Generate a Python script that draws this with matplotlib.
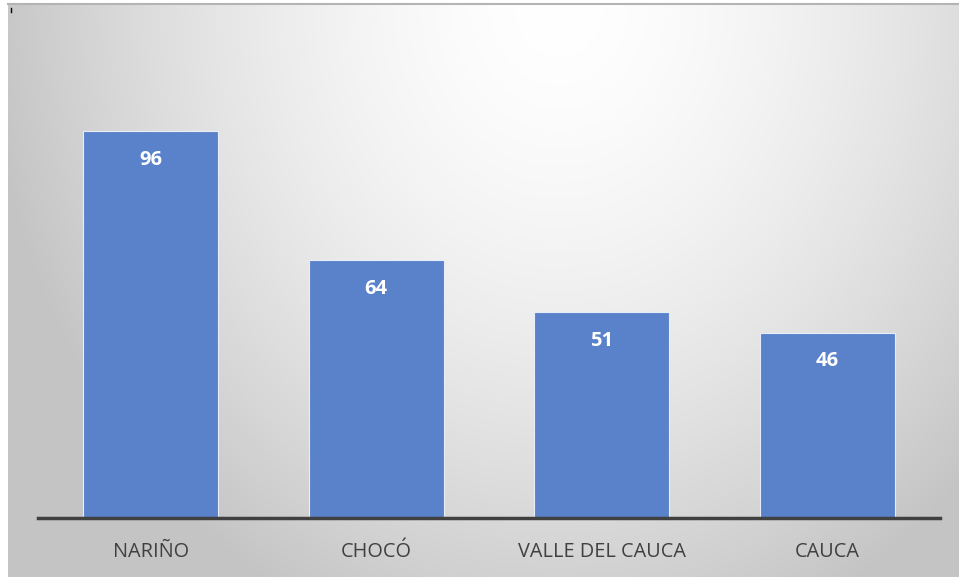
import matplotlib.pyplot as plt
import numpy as np

departamentos = ['NARIÑO', 'CHOCÓ', 'VALLE DEL CAUCA', 'CAUCA']
valores = [96, 64, 51, 46]

W, H = 959, 577
fig = plt.figure(figsize=(W / 100, H / 100), dpi=100, facecolor='white')

# fondo con degradado radial
bg = fig.add_axes([8 / W, 0, (W - 8) / W, (H - 4) / H])
yy, xx = np.mgrid[0:573, 0:951]
d = np.sqrt((xx - 550) ** 2 + (0.85 * yy) ** 2)
v = np.clip(1 - 0.216 * (d / 550) ** 1.6, 0.77, 1)
bg.imshow(np.dstack([v, v, v]), aspect='auto', extent=(0, 1, 0, 1), origin='upper')
bg.set_axis_off()
fig.add_artist(plt.Line2D([8 / W, 1], [1 - 4 / H] * 2, color='#b4b4b4', lw=1.5))
fig.add_artist(plt.Line2D([11 / W, 11 / W], [1 - 8 / H, 1 - 12 / H], color='black', lw=1))

ax = fig.add_axes([38 / W, (H - 518) / H, 902 / W, 484 / H])
ax.patch.set_alpha(0)
x = np.arange(len(departamentos))
barras = ax.bar(x, valores, width=0.6, color='#5a82ca', edgecolor='#e8eef8', linewidth=0.8)
ax.set_xlim(-0.5, 3.5)
ax.set_ylim(0, 484 / 4.03)

for b, val in zip(barras, valores):
    ax.annotate(str(val), (b.get_x() + b.get_width() / 2, val), xytext=(0, -20.5),
                textcoords='offset points', ha='center', va='center',
                color='white', fontsize=14.5, fontweight='bold', family='Open Sans')

for s in ['top', 'right', 'left']:
    ax.spines[s].set_visible(False)
ax.spines['bottom'].set_color('#404040')
ax.spines['bottom'].set_linewidth(2.5)
ax.set_yticks([])
ax.set_xticks(x)
ax.set_xticklabels(departamentos, fontsize=14.3, color='#404040', family='Open Sans')
ax.tick_params(axis='x', length=0, pad=17)

fig.savefig('out.png', dpi=100)
